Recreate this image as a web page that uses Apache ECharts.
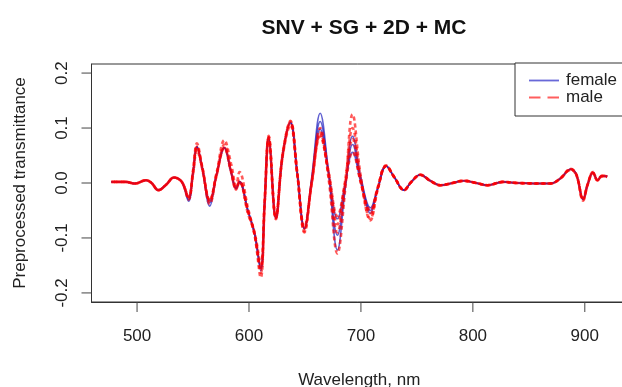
<!DOCTYPE html>
<html>
<head>
<meta charset="utf-8">
<script src="https://cdn.jsdelivr.net/npm/echarts@6/dist/echarts.min.js"></script>
<style>
html,body{margin:0;padding:0;background:#fff;}
#c{width:622px;height:387px;}
</style>
</head>
<body>
<div id="c"></div>
<script>
// Wavelength key points (nm)
var wavelengths = [477,490,498,508,513,519,526,533,540,546,550,553.5,558,565,571,578,584,588.5,591.5,599,605,610.5,614,617.6,624,630,637,643,649.5,656,663.6,671,679,686,692.5,700,708.5,715,722.5,730,738.5,745,753,762,771,780,792,803,813,827,840,869,878,887.5,892.5,898.5,902.5,907.3,911.4,915.3,920];

// Female spectra (blue, solid)
var female1 = [0.002,0.002,-0.001,0.005,0.000,-0.013,-0.003,0.010,0.002,-0.033,0.018,0.066,0.030,-0.042,0.015,0.064,0.020,-0.010,0.002,-0.050,-0.092,-0.160,-0.035,0.083,-0.064,0.050,0.110,0.020,-0.083,0.010,0.127,0.020,-0.122,-0.010,0.085,0.010,-0.045,-0.010,0.031,0.010,-0.013,0.002,0.015,0.004,-0.004,-0.001,0.004,0.000,-0.004,0.002,0.000,-0.001,0.008,0.025,0.015,-0.030,-0.003,0.019,0.005,0.013,0.012];
var female2 = [0.002,0.002,-0.001,0.005,0.000,-0.013,-0.003,0.010,0.002,-0.030,0.020,0.066,0.030,-0.036,0.015,0.064,0.020,-0.010,0.002,-0.050,-0.092,-0.155,-0.035,0.083,-0.064,0.050,0.110,0.020,-0.083,0.005,0.112,0.020,-0.095,-0.005,0.070,0.005,-0.050,-0.010,0.031,0.010,-0.013,0.002,0.015,0.004,-0.004,-0.001,0.004,0.000,-0.004,0.002,0.000,-0.001,0.008,0.025,0.015,-0.030,-0.003,0.019,0.005,0.013,0.012];
var female3 = [0.002,0.002,-0.001,0.005,0.000,-0.013,-0.003,0.010,0.002,-0.026,0.020,0.066,0.030,-0.032,0.015,0.064,0.020,-0.010,0.002,-0.050,-0.092,-0.155,-0.035,0.083,-0.064,0.050,0.110,0.020,-0.083,0.000,0.098,0.020,-0.065,0.000,0.056,0.000,-0.055,-0.010,0.031,0.010,-0.013,0.002,0.015,0.004,-0.004,-0.001,0.004,0.000,-0.004,0.002,0.000,-0.001,0.008,0.025,0.015,-0.030,-0.003,0.019,0.005,0.013,0.012];

// Male spectra (red, dashed)
var male1 = [0.002,0.002,-0.001,0.005,0.000,-0.013,-0.003,0.010,0.002,-0.026,0.020,0.066,0.030,-0.032,0.015,0.064,0.020,-0.010,0.002,-0.050,-0.092,-0.155,-0.035,0.083,-0.064,0.050,0.110,0.020,-0.083,0.000,0.092,0.020,-0.060,0.000,0.056,0.000,-0.055,-0.010,0.031,0.010,-0.013,0.002,0.015,0.004,-0.004,-0.001,0.004,0.000,-0.004,0.002,0.000,-0.001,0.008,0.025,0.015,-0.030,-0.003,0.019,0.005,0.013,0.012];
var male2 = [0.002,0.002,-0.001,0.005,0.000,-0.013,-0.003,0.010,0.002,-0.026,0.022,0.072,0.032,-0.032,0.018,0.078,0.035,-0.004,0.020,-0.045,-0.095,-0.172,-0.038,0.086,-0.066,0.052,0.112,0.020,-0.088,0.002,0.100,0.010,-0.128,-0.010,0.125,0.010,-0.068,-0.012,0.032,0.010,-0.013,0.002,0.015,0.004,-0.004,-0.001,0.004,0.000,-0.004,0.002,0.000,-0.001,0.008,0.026,0.015,-0.032,-0.003,0.020,0.005,0.013,0.012];
var male3 = [0.002,0.002,-0.001,0.005,0.000,-0.013,-0.003,0.010,0.002,-0.026,0.016,0.060,0.028,-0.038,0.013,0.070,0.024,-0.012,0.004,-0.052,-0.094,-0.163,-0.036,0.080,-0.062,0.048,0.105,0.018,-0.080,0.000,0.088,0.022,-0.075,0.005,0.100,0.005,-0.065,-0.010,0.030,0.010,-0.012,0.002,0.014,0.004,-0.004,-0.001,0.004,0.000,-0.004,0.002,0.000,-0.001,0.008,0.024,0.014,-0.028,-0.003,0.018,0.005,0.012,0.011];
var male4 = [0.002,0.002,-0.001,0.005,0.000,-0.013,-0.003,0.010,0.002,-0.030,0.020,0.066,0.030,-0.032,0.015,0.064,0.020,-0.010,0.002,-0.055,-0.090,-0.148,-0.033,0.083,-0.064,0.050,0.113,0.020,-0.090,0.000,0.085,0.015,-0.090,0.000,0.080,0.000,-0.050,-0.008,0.031,0.010,-0.013,0.002,0.015,0.004,-0.004,-0.001,0.004,0.000,-0.004,0.002,0.000,-0.001,0.008,0.025,0.015,-0.030,-0.003,0.019,0.005,0.013,0.012];

var xTicks = [500,600,700,800,900];
var yTicks = [-0.2,-0.1,0,0.1,0.2];
var yTickLabels = ['-0.2','-0.1','0.0','0.1','0.2'];

var FONT = 'Liberation Sans, Arial, sans-serif';
var X_MIN = 459.3, X_MAX = 937.7, Y_MIN = -0.2165, Y_MAX = 0.2165;
function pairs(arr){ return wavelengths.map(function(w,i){ return [w, arr[i]]; }); }

var femaleColor = 'rgba(30,30,190,0.7)';
var maleColor = 'rgba(255,0,0,0.65)';

function femaleSeries(arr){
  return {name:'female', type:'line', data:pairs(arr), symbol:'none', smooth:0.4,
    lineStyle:{color:femaleColor, width:1.6, type:'solid'}, itemStyle:{color:femaleColor}, z:2};
}
function maleSeries(arr, off){
  return {name:'male', type:'line', data:pairs(arr), symbol:'none', smooth:0.4,
    lineStyle:{color:maleColor, width:2.6, type:[4,3], dashOffset:off}, itemStyle:{color:maleColor}, z:3};
}
// outward tick marks drawn through the axis scales
function tickSeries(data, horizontal){
  return {name:'ticks', type:'custom', silent:true, clip:false, z:5,
    data:data,
    renderItem:function(params, api){
      var p = api.coord([api.value(0), api.value(1)]);
      var shape = horizontal ? {x1:p[0], y1:p[1], x2:p[0], y2:p[1]+10}
                             : {x1:p[0], y1:p[1], x2:p[0]-10, y2:p[1]};
      return {type:'line', shape:shape, style:{stroke:'#444', lineWidth:1}};
    }};
}

var chart = echarts.init(document.getElementById('c'), null, {renderer:'canvas'});
chart.setOption({
  animation:false,
  backgroundColor:'#fff',
  title:{
    text:'SNV + SG + 2D + MC', left:359, top:13, textAlign:'center',
    textStyle:{fontFamily:FONT, fontSize:21, fontWeight:'bold', color:'#111'}
  },
  legend:{
    data:[
      {name:'female', icon:'path://M0,0 L1,0 L1,0.06 L0,0.06 Z', itemStyle:{color:'rgba(40,40,200,0.7)'}},
      {name:'male', icon:'path://M0,0 L0.36,0 L0.36,0.06 L0,0.06 Z M0.58,0 L0.94,0 L0.94,0.06 L0.58,0.06 Z', itemStyle:{color:'rgba(255,40,40,0.75)'}}
    ],
    orient:'vertical', left:515, top:63,
    borderColor:'#333', borderWidth:1, padding:[9,10,10,14], itemGap:0,
    itemWidth:30, itemHeight:17, backgroundColor:'#fff',
    textStyle:{fontFamily:FONT, fontSize:17, color:'#222', padding:[0,0,0,2]}
  },
  grid:{left:91.5, top:64, width:535.5, height:238, show:true, borderColor:'#333', borderWidth:1,
    containLabel:false, outerBoundsMode:'none'},
  xAxis:{
    type:'value', min:X_MIN, max:X_MAX,
    name:'Wavelength, nm', nameLocation:'middle', nameGap:70,
    nameTextStyle:{fontFamily:FONT, fontSize:17, color:'#222'},
    axisLine:{show:true, onZero:false, lineStyle:{color:'#333', width:1}},
    axisTick:{show:false},
    axisLabel:{customValues:xTicks, margin:26, fontFamily:FONT, fontSize:17, color:'#222'},
    splitLine:{show:false}
  },
  yAxis:{
    type:'value', min:Y_MIN, max:Y_MAX,
    name:'Preprocessed transmittance', nameLocation:'middle', nameGap:63,
    nameTextStyle:{fontFamily:FONT, fontSize:17, color:'#222'},
    axisLine:{show:true, onZero:false, lineStyle:{color:'#333', width:1}},
    axisTick:{show:false},
    axisLabel:{customValues:yTicks, rotate:90, margin:21, fontFamily:FONT, fontSize:17, color:'#222',
      formatter:function(v){ var i = yTicks.findIndex(function(t){return Math.abs(t-v)<1e-9;}); return i>=0 ? yTickLabels[i] : ''; }},
    splitLine:{show:false}
  },
  series:[
    femaleSeries(female1), femaleSeries(female2), femaleSeries(female3),
    maleSeries(male1,0), maleSeries(male2,2), maleSeries(male3,4), maleSeries(male4,5),
    tickSeries(xTicks.map(function(v){ return [v, Y_MIN]; }), true),
    tickSeries(yTicks.map(function(v){ return [X_MIN, v]; }), false)
  ]
});
</script>
</body>
</html>
